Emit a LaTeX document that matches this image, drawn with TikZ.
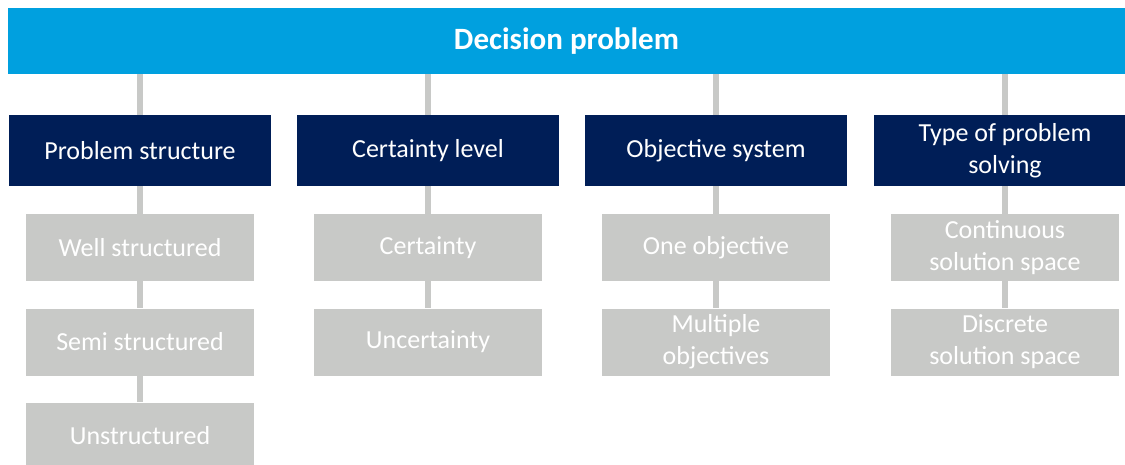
\documentclass[tikz,border=0pt]{standalone}
\usepackage{fontspec}
\setmainfont{Carlito}
\usepackage{tikz}

\definecolor{topblue}{HTML}{00A0DF}
\definecolor{navy}{HTML}{001E57}
\definecolor{boxgray}{HTML}{C8C9C7}

\begin{document}
\begin{tikzpicture}[x=1pt, y=-1pt,
  top/.style={fill=topblue, text=white, minimum width=1117pt, minimum height=66pt, inner sep=0pt, font=\fontsize{31}{34}\selectfont\bfseries},
  head/.style={fill=navy, text=white, minimum width=262pt, minimum height=71pt, inner sep=0pt, align=center, font=\fontsize{26}{32}\selectfont},
  leaf/.style={fill=boxgray, text=white, minimum width=228pt, minimum height=67pt, inner sep=0pt, align=center, font=\fontsize{26}{32}\selectfont},
  link/.style={draw=boxgray, line width=6pt}]

\useasboundingbox (0,0) rectangle (1125,465);

\node[top] (t) at (566.5,41) {Decision problem};

\node[head] (h1) at (140,150.5) {Problem structure};
\node[head] (h2) at (428,150.5) {Certainty level};
\node[head] (h3) at (716,150.5) {Objective system};
\node[head] (h4) at (1005,150.5) {Type of problem\\solving};

\node[leaf] (a1) at (140,247.5) {Well structured};
\node[leaf] (a2) at (140,342) {Semi structured};
\node[leaf] (a3) at (140,436) {Unstructured};

\node[leaf] (b1) at (428,247.5) {Certainty};
\node[leaf] (b2) at (428,342) {Uncertainty};

\node[leaf] (c1) at (716,247.5) {One objective};
\node[leaf] (c2) at (716,342) {Multiple\\objectives};

\node[leaf] (d1) at (1005,247.5) {Continuous\\solution space};
\node[leaf] (d2) at (1005,342) {Discrete\\solution space};

\draw[link] (t.south -| h1) -- (h1);
\draw[link] (t.south -| h2) -- (h2);
\draw[link] (t.south -| h3) -- (h3);
\draw[link] (t.south -| h4) -- (h4);

\draw[link] (h1) -- (a1);
\draw[link] (a1) -- (a2);
\draw[link] (a2) -- (a3);
\draw[link] (h2) -- (b1);
\draw[link] (b1) -- (b2);
\draw[link] (h3) -- (c1);
\draw[link] (c1) -- (c2);
\draw[link] (h4) -- (d1);
\draw[link] (d1) -- (d2);

\end{tikzpicture}
\end{document}
